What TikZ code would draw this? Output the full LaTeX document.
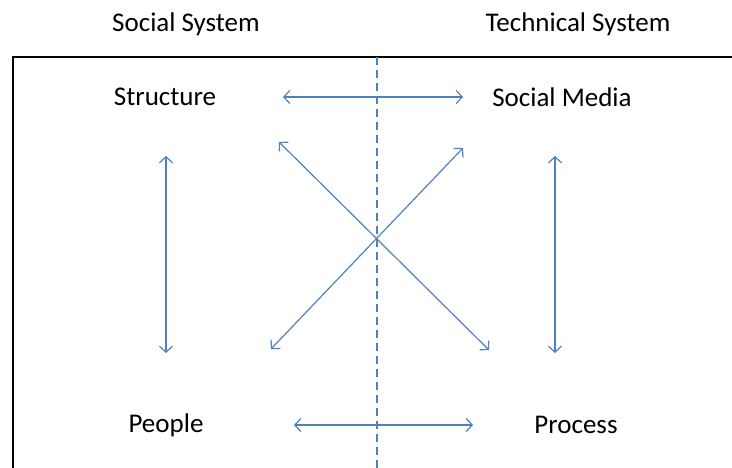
\documentclass[tikz,border=0pt]{standalone}
\usepackage{fontspec}
\setmainfont{Carlito}
\usetikzlibrary{arrows.meta,positioning}
\definecolor{linkblue}{RGB}{79,129,189}

\begin{document}
\begin{tikzpicture}[
    x=1pt, y=-1pt,
    label/.style={font=\fontsize{27}{32}\selectfont, inner sep=0pt},
    link/.style={draw=linkblue, line width=1.2pt, {Straight Barb[length=6pt,width=13pt]}-{Straight Barb[length=6pt,width=13pt]}},
    divider/.style={draw=linkblue, line width=1.2pt, dash pattern=on 8pt off 5pt}
]
    \useasboundingbox (0,0) rectangle (732,468);

    % frame, open to the right and bottom
    \draw[line width=2.6pt] (13,468) -- (13,57) -- (732,57);

    % headings
    \node (social) [label] at (186,24) {Social System};
    \node (technical) [label] at (578,24) {Technical System};

    % the four elements
    \node (structure) [label] at (165,97) {Structure};
    \node (media) [label] at (562,97) {Social Media};
    \node (people) [label] at (166,425) {People};
    \node (process) [label] at (576,425) {Process};

    % arrow ends
    \coordinate (st-r) at (283,97);
    \coordinate (sm-l) at (463,97);
    \coordinate (pe-r) at (294,425);
    \coordinate (pr-l) at (473,425);
    \coordinate (st-b) at (166,156);
    \coordinate (pe-t) at (166,353);
    \coordinate (sm-b) at (555,156);
    \coordinate (pr-t) at (555,353);
    \coordinate (st-d) at (279,142);
    \coordinate (pr-d) at (489,350);
    \coordinate (sm-d) at (463,148);
    \coordinate (pe-d) at (271,349);
    \coordinate (div-top) at (377,57);
    \coordinate (div-bot) at (377,468);

    % divider between the two systems
    \draw[divider] (div-top) -- (div-bot);

    % links
    \draw[link] (st-r) -- (sm-l);
    \draw[link] (pe-r) -- (pr-l);
    \draw[link] (st-b) -- (pe-t);
    \draw[link] (sm-b) -- (pr-t);
    \draw[link] (st-d) -- (pr-d);
    \draw[link] (sm-d) -- (pe-d);
\end{tikzpicture}
\end{document}
